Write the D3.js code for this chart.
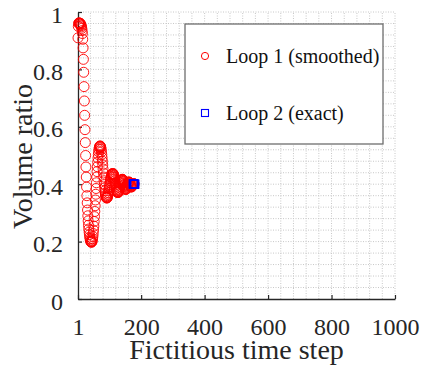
<!DOCTYPE html>
<html>
<head>
<meta charset="utf-8">
<script src="https://cdn.jsdelivr.net/npm/d3@7"></script>
<style>
  html, body { margin: 0; padding: 0; background: #fff; }
  svg { display: block; }
</style>
</head>
<body>
<svg id="chart" width="423" height="374"></svg>
<script>
// ---------------- data ----------------
const xTickValues = [1, 200, 400, 600, 800, 1000];
const yTickValues = [0, 0.2, 0.4, 0.6, 0.8, 1];
const yTickLabels = ["0", "0.2", "0.4", "0.6", "0.8", "1"];

// Loop 1 (smoothed): value at fictitious time step 1, 2, 3, ...
const loop1Values = [
  0.91, 0.95, 0.96, 0.962, 0.962, 0.961, 0.96, 0.96, 0.958, 0.955,
  0.952, 0.948, 0.943, 0.935, 0.925, 0.905, 0.875, 0.835, 0.79, 0.74,
  0.69, 0.64, 0.59, 0.545, 0.50, 0.46, 0.425, 0.39, 0.36, 0.335,
  0.31, 0.29, 0.272, 0.257, 0.244, 0.233, 0.224, 0.216, 0.21, 0.205,
  0.201, 0.199, 0.198, 0.198, 0.2, 0.204, 0.21, 0.218, 0.228, 0.24,
  0.254, 0.27, 0.287, 0.305, 0.325, 0.345, 0.365, 0.385, 0.405, 0.425,
  0.444, 0.461, 0.477, 0.491, 0.503, 0.513, 0.521, 0.527, 0.531, 0.533,
  0.533, 0.531, 0.527, 0.521, 0.513, 0.503, 0.492, 0.48, 0.467, 0.453,
  0.439, 0.425, 0.412, 0.399, 0.387, 0.377, 0.369, 0.362, 0.357, 0.354,
  0.352, 0.352, 0.353, 0.356, 0.36, 0.365, 0.371, 0.378, 0.385, 0.392,
  0.399, 0.406, 0.412, 0.418, 0.423, 0.427, 0.431, 0.434, 0.436, 0.437,
  0.437, 0.436, 0.433, 0.429, 0.424, 0.418, 0.412, 0.405, 0.398, 0.392,
  0.386, 0.381, 0.377, 0.374, 0.372, 0.371, 0.371, 0.372, 0.374, 0.378,
  0.382, 0.387, 0.392, 0.397, 0.402, 0.406, 0.41, 0.413, 0.415, 0.417,
  0.417, 0.416, 0.413, 0.409, 0.404, 0.399, 0.394, 0.39, 0.386, 0.383,
  0.382, 0.382, 0.383, 0.386, 0.39, 0.394, 0.398, 0.402, 0.405, 0.407,
  0.408, 0.407, 0.405, 0.402, 0.399, 0.396, 0.393, 0.391, 0.39, 0.391,
  0.393, 0.395, 0.397, 0.399, 0.401, 0.402, 0.402, 0.401
];

// Loop 2 (exact)
const loop2Steps  = [175, 176, 177, 178, 179, 180];
const loop2Values = [0.401, 0.400, 0.400, 0.400, 0.400, 0.400];

const seriesNames = ["Loop 1 (smoothed)", "Loop 2 (exact)"];

// ---------------- drawing ----------------
const svg = d3.select("#chart");
const FONT = "'Liberation Serif', 'Times New Roman', Times, serif";

const x = d3.scaleLinear().domain([1, 1000]).range([78, 395]);
const y = d3.scaleLinear().domain([0, 1]).range([299, 12]);

// grid (minor, dotted)
const grid = svg.append("g");
grid.selectAll("line.gx")
  .data(d3.range(40, 1001, 40))
  .enter().append("line")
  .attr("x1", d => x(d)).attr("x2", d => x(d))
  .attr("y1", y(0)).attr("y2", y(1))
  .attr("stroke", "#c8c8c8").attr("stroke-width", 1)
  .attr("stroke-dasharray", "1,1.5");
grid.selectAll("line.gy")
  .data(d3.range(1, 26).map(i => i * 0.04))
  .enter().append("line")
  .attr("x1", x(1)).attr("x2", x(1000))
  .attr("y1", d => y(d)).attr("y2", d => y(d))
  .attr("stroke", "#c8c8c8").attr("stroke-width", 1)
  .attr("stroke-dasharray", "1,1.5");

// axes
const xAxis = svg.append("g")
  .attr("transform", `translate(0,${y(0)})`)
  .call(d3.axisBottom(x).tickValues(xTickValues).tickSizeInner(-4).tickSizeOuter(0).tickFormat(d3.format("d")));
xAxis.select(".domain").attr("stroke", "#262626").attr("stroke-width", 1.3);
xAxis.selectAll(".tick line").attr("stroke", "#262626").attr("stroke-width", 1.2);
xAxis.selectAll(".tick text")
  .attr("y", 36).attr("dy", 0)
  .attr("fill", "#262626")
  .style("font-family", FONT).style("font-size", "24px");

const yAxis = svg.append("g")
  .attr("transform", `translate(${x(1)},0)`)
  .call(d3.axisLeft(y).tickValues(yTickValues).tickSizeInner(-4).tickSizeOuter(0)
        .tickFormat((d, i) => yTickLabels[i]));
yAxis.select(".domain").attr("stroke", "#262626").attr("stroke-width", 1.3);
yAxis.selectAll(".tick line").attr("stroke", "#262626").attr("stroke-width", 1.2);
yAxis.selectAll(".tick text")
  .attr("x", -15).attr("dy", "0.42em")
  .attr("fill", "#262626")
  .style("font-family", FONT).style("font-size", "24px");

// axis labels
svg.append("text")
  .attr("x", (x(1) + x(1000)) / 2).attr("y", 359)
  .attr("text-anchor", "middle")
  .attr("fill", "#262626")
  .style("font-family", FONT).style("font-size", "28px")
  .text("Fictitious time step");
svg.append("text")
  .attr("transform", `translate(32,${(y(0) + y(1)) / 2 + 1}) rotate(-90)`)
  .attr("text-anchor", "middle")
  .attr("fill", "#262626")
  .style("font-family", FONT).style("font-size", "28px")
  .text("Volume ratio");

// Loop 1 circles
svg.append("g").selectAll("circle")
  .data(loop1Values)
  .enter().append("circle")
  .attr("cx", (d, i) => x(i + 1))
  .attr("cy", d => y(d))
  .attr("r", 5)
  .attr("fill", "none")
  .attr("stroke", "#ff0000")
  .attr("stroke-width", 0.9);

// Loop 2 squares
const sq = 8;
svg.append("g").selectAll("rect")
  .data(loop2Values)
  .enter().append("rect")
  .attr("x", (d, i) => x(loop2Steps[i]) - sq / 2)
  .attr("y", d => y(d) - sq / 2)
  .attr("width", sq).attr("height", sq)
  .attr("fill", "none")
  .attr("stroke", "#0000ff")
  .attr("stroke-width", 1.2);

// legend
const lg = svg.append("g");
lg.append("rect")
  .attr("x", 185).attr("y", 24).attr("width", 198).attr("height", 120)
  .attr("fill", "#fff").attr("stroke", "#6e6e6e").attr("stroke-width", 1.3);
lg.append("circle")
  .attr("cx", 205).attr("cy", 56).attr("r", 3.6)
  .attr("fill", "none").attr("stroke", "#ff0000").attr("stroke-width", 1);
lg.append("rect")
  .attr("x", 201.5).attr("y", 109.5).attr("width", 7).attr("height", 7)
  .attr("fill", "none").attr("stroke", "#0000ff").attr("stroke-width", 1.1);
lg.selectAll("text.leg")
  .data(seriesNames)
  .enter().append("text")
  .attr("x", 226)
  .attr("y", (d, i) => 63 + i * 57)
  .attr("fill", "#111")
  .style("font-family", FONT).style("font-size", "20px")
  .text(d => d);
</script>
</body>
</html>
